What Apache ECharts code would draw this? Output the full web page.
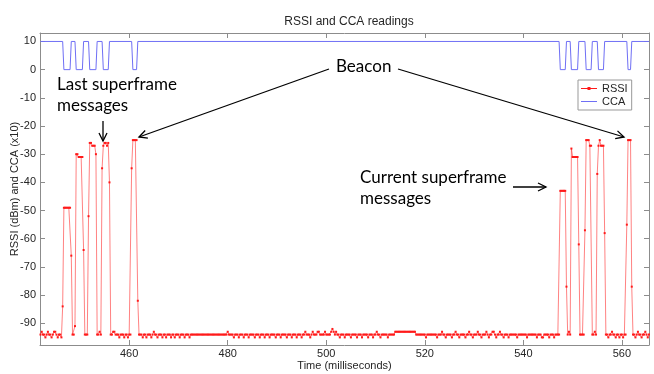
<!DOCTYPE html>
<html>
<head>
<meta charset="utf-8">
<script src="https://cdn.jsdelivr.net/npm/echarts@6/dist/echarts.min.js"></script>
<style>
html,body{margin:0;padding:0;background:#fff;}
#chart{width:654px;height:374px;}
</style>
</head>
<body>
<div id="chart"></div>
<script>
// RSSI sampled every 0.25 ms starting at 442.0 ms (rows of 5 ms)
const t0 = 442.0;
const dt = 0.25;
const rssi = [
  -94,-93,-94,-94,-95,-94,-93,-94,-94,-95,-94,-93,-93,-94,-95,-94,-94,-95,-84,-49,
  -49,-49,-49,-49,-49,-66,-94,-94,-91,-30,-30,-31,-31,-31,-31,-64,-94,-94,-94,-52,
  -26,-26,-27,-27,-27,-30,-94,-94,-93,-94,-35,-27,-26,-26,-27,-26,-40,-94,-94,-93,
  -93,-94,-94,-94,-95,-94,-94,-94,-95,-94,-94,-95,-94,-94,-35,-25,-25,-25,-25,-82,
  -94,-94,-94,-95,-94,-94,-95,-94,-94,-94,-95,-94,-93,-94,-94,-95,-94,-94,-94,-95,
  -94,-94,-95,-94,-94,-94,-95,-94,-94,-95,-94,-94,-94,-95,-94,-94,-94,-95,-94,-94,
  -94,-95,-94,-94,-94,-94,-94,-94,-94,-94,-94,-94,-94,-94,-94,-94,-94,-94,-94,-94,
  -94,-94,-94,-94,-94,-94,-94,-94,-94,-94,-94,-94,-93,-94,-94,-94,-94,-95,-94,-94,
  -94,-95,-94,-94,-94,-95,-94,-94,-94,-95,-94,-94,-94,-94,-95,-94,-94,-94,-95,-94,
  -94,-94,-95,-94,-94,-94,-95,-94,-94,-94,-94,-95,-94,-94,-94,-95,-94,-94,-94,-94,
  -95,-94,-94,-94,-95,-94,-94,-94,-95,-94,-94,-94,-95,-94,-94,-93,-94,-94,-94,-95,
  -94,-93,-94,-94,-94,-93,-93,-94,-94,-94,-94,-93,-94,-94,-94,-94,-93,-92,-93,-94,
  -93,-94,-94,-95,-94,-94,-94,-95,-94,-94,-94,-94,-95,-94,-94,-94,-94,-95,-94,-94,
  -94,-95,-94,-94,-94,-94,-95,-94,-94,-94,-95,-94,-94,-93,-94,-94,-95,-94,-94,-94,
  -94,-94,-95,-94,-94,-94,-94,-94,-93,-93,-93,-93,-93,-93,-93,-93,-93,-93,-93,-93,
  -93,-93,-93,-93,-93,-94,-94,-94,-94,-94,-94,-94,-94,-95,-94,-94,-94,-94,-94,-94,
  -94,-94,-95,-94,-94,-94,-93,-94,-94,-95,-94,-94,-94,-94,-95,-94,-94,-93,-94,-94,
  -95,-94,-94,-94,-94,-95,-94,-94,-93,-94,-94,-95,-94,-94,-94,-93,-94,-94,-95,-94,
  -94,-94,-93,-94,-95,-94,-94,-93,-93,-94,-95,-94,-94,-93,-94,-94,-95,-94,-94,-94,
  -95,-94,-94,-94,-94,-94,-94,-95,-94,-94,-94,-94,-94,-94,-94,-95,-94,-94,-94,-94,
  -94,-94,-94,-95,-94,-94,-94,-95,-95,-94,-94,-94,-94,-95,-94,-94,-94,-95,-94,-94,
  -94,-94,-43,-43,-43,-43,-43,-77,-94,-93,-94,-28,-31,-31,-31,-31,-31,-62,-94,-94,
  -94,-94,-57,-25,-25,-25,-27,-27,-94,-94,-93,-94,-37,-27,-25,-27,-27,-27,-58,-94,
  -94,-95,-94,-94,-93,-94,-94,-95,-94,-94,-95,-94,-94,-95,-94,-94,-55,-25,-25,-25,
  -77,-94,-94,-95,-94,-93,-94,-94,-95,-94,-94,-93,-94,-95,-94
];

// CCA (x10) readings: change points
const ccaTime = [442.0, 446.5, 446.75, 448.0, 448.25, 449.0, 449.25, 450.5, 450.75,
  451.75, 452.0, 453.25, 453.5, 454.5, 454.75, 455.75, 456.0, 460.5, 460.75, 461.5, 461.75,
  547.25, 547.5, 548.5, 548.75, 549.5, 549.75, 551.0, 551.25, 552.5, 552.75, 553.75, 554.0,
  555.0, 555.25, 556.25, 556.5, 561.0, 561.25, 561.75, 562.0, 565.5];
const ccaValue = [10, 10, 0, 0, 10, 10, 0, 0, 10,
  10, 0, 0, 10, 10, 0, 0, 10, 10, 0, 0, 10,
  10, 0, 0, 10, 10, 0, 0, 10, 10, 0, 0, 10,
  10, 0, 0, 10, 10, 0, 0, 10, 10];

const xTicks = [460, 480, 500, 520, 540, 560];
const yTicks = [-90, -80, -70, -60, -50, -40, -30, -20, -10, 0, 10];

const rssiData = rssi.map((v, i) => [t0 + i * dt, v]);
const ccaData = ccaTime.map((t, i) => [t, ccaValue[i]]);

const FONT = 'Liberation Sans, Arial, sans-serif';
const ANN_FONT = 'Lato, "Open Sans", sans-serif';
const AXC = '#8c8c8c';
const TXT = '#262626';

function arrow(x1, y1, x2, y2) {
  const dx = x2 - x1, dy = y2 - y1;
  const L = Math.sqrt(dx * dx + dy * dy);
  const ux = dx / L, uy = dy / L;
  const nx = -uy, ny = ux;
  const h = 8, w = 4;
  return [
    { type: 'line', shape: { x1: x1, y1: y1, x2: x2, y2: y2 }, style: { stroke: '#000', lineWidth: 1.3 } },
    { type: 'polyline', shape: { points: [[x2 - h * ux + w * nx, y2 - h * uy + w * ny], [x2, y2], [x2 - h * ux - w * nx, y2 - h * uy - w * ny]] },
      style: { stroke: '#000', lineWidth: 1.3, fill: null } }
  ];
}

const xMin = 441.9, xMax = 565.5, yMin = -97.7, yMax = 13;

const axisCommon = {
  axisLine: { show: true, onZero: false, lineStyle: { color: AXC, width: 1 } },
  splitLine: { show: false }
};

// legend icons: line (with marker for RSSI) inside a 16x10 box
const ICON_RSSI = 'path://M0,0h0.01v0.01h-0.01Z M0,4.5H16V5.5H0Z M6.5,3.5H9.5V6.5H6.5Z M15.99,9.99h0.01v0.01h-0.01Z';
const ICON_CCA = 'path://M0,0h0.01v0.01h-0.01Z M0,4.5H16V5.5H0Z M15.99,9.99h0.01v0.01h-0.01Z';

const chart = echarts.init(document.getElementById('chart'), null, { renderer: 'canvas' });
chart.setOption({
  animation: false,
  backgroundColor: '#fff',
  title: {
    text: 'RSSI and CCA readings',
    left: 344, top: 11, textAlign: 'center',
    textStyle: { fontFamily: FONT, fontSize: 12, fontWeight: 'normal', color: TXT }
  },
  grid: { left: 40, right: 5, top: 33, bottom: 29, containLabel: false, outerBoundsMode: 'none' },
  legend: {
    orient: 'vertical', left: 578, top: 80,
    padding: [3, 4, 3, 3], itemGap: 2, itemWidth: 16, itemHeight: 10,
    borderColor: '#999', borderWidth: 1, backgroundColor: '#fff',
    textStyle: { fontFamily: FONT, fontSize: 11, color: TXT },
    data: [{ name: 'RSSI', icon: ICON_RSSI }, { name: 'CCA', icon: ICON_CCA }]
  },
  xAxis: [
    Object.assign({
      type: 'value', min: xMin, max: xMax, position: 'bottom',
      name: 'Time (milliseconds)', nameLocation: 'middle', nameGap: 15, nameMoveOverlap: false,
      nameTextStyle: { fontFamily: FONT, fontSize: 11, color: TXT },
      axisTick: { show: true, inside: true, length: 5, customValues: xTicks, lineStyle: { color: AXC } },
      axisLabel: { customValues: xTicks, fontFamily: FONT, fontSize: 11, color: TXT, margin: 3 }
    }, axisCommon),
    Object.assign({
      type: 'value', min: xMin, max: xMax, position: 'top',
      axisTick: { show: true, inside: true, length: 5, customValues: xTicks, lineStyle: { color: AXC } },
      axisLabel: { show: false }
    }, axisCommon)
  ],
  yAxis: [
    Object.assign({
      type: 'value', min: yMin, max: yMax, position: 'left',
      name: 'RSSI (dBm) and CCA (x10)', nameLocation: 'middle', nameGap: 20, nameMoveOverlap: false,
      nameTextStyle: { fontFamily: FONT, fontSize: 11, color: TXT },
      axisTick: { show: true, inside: true, length: 5, customValues: yTicks, lineStyle: { color: AXC } },
      axisLabel: { customValues: yTicks, fontFamily: FONT, fontSize: 11, color: TXT, margin: 4 }
    }, axisCommon),
    Object.assign({
      type: 'value', min: yMin, max: yMax, position: 'right',
      axisTick: { show: true, inside: true, length: 5, customValues: yTicks, lineStyle: { color: AXC } },
      axisLabel: { show: false }
    }, axisCommon)
  ],
  series: [
    {
      name: 'RSSI', type: 'line', data: rssiData,
      xAxisIndex: 0, yAxisIndex: 0,
      symbol: 'rect', symbolSize: 2, showSymbol: true,
      itemStyle: { color: '#ff1a1a' },
      lineStyle: { color: '#ff3b3b', width: 0.8, opacity: 0.8 },
      z: 3
    },
    {
      name: 'CCA', type: 'line', data: ccaData,
      xAxisIndex: 0, yAxisIndex: 0,
      symbol: 'none',
      itemStyle: { color: '#6f6ff5' },
      lineStyle: { color: '#6f6ff5', width: 1 },
      z: 2
    }
  ],
  graphic: [
    { type: 'text', left: 336, top: 58, style: { text: 'Beacon', font: '17px ' + ANN_FONT, fill: '#000' } },
    { type: 'text', left: 57, top: 74, style: { text: 'Last superframe\nmessages', font: '17px ' + ANN_FONT, fill: '#000', lineHeight: 21 } },
    { type: 'text', left: 360, top: 167, style: { text: 'Current superframe\nmessages', font: '17px ' + ANN_FONT, fill: '#000', lineHeight: 21 } }
  ].concat(arrow(329, 69, 139, 137))
   .concat(arrow(398, 69, 624, 137))
   .concat(arrow(103, 121, 103, 141))
   .concat(arrow(513, 187, 546, 187))
});
</script>
</body>
</html>
